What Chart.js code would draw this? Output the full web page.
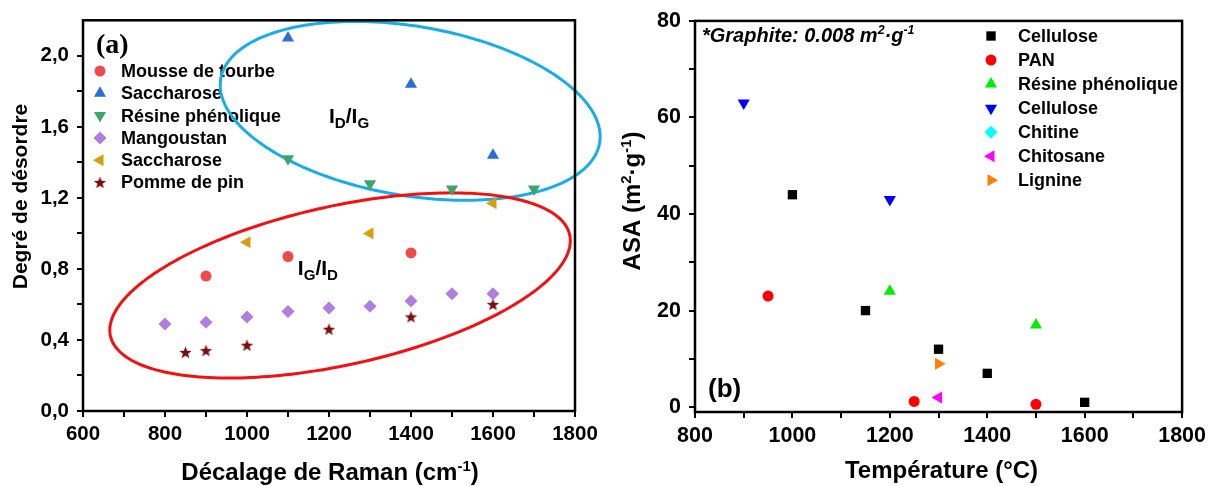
<!DOCTYPE html>
<html>
<head>
<meta charset="utf-8">
<script src="https://cdn.jsdelivr.net/npm/chart.js"></script>
<style>
  html, body { margin: 0; padding: 0; background: #fff; }
  #wrap { position: relative; width: 1211px; height: 486px; }
  canvas { position: absolute; top: 0; }
  #chartA { left: 0; }
  #chartB { left: 605px; }
</style>
</head>
<body>
<div id="wrap">
  <canvas id="chartA" width="605" height="486"></canvas>
  <canvas id="chartB" width="606" height="486"></canvas>
</div>
<script>
// ---- (a) Raman disorder data ----
const mousseX = [900, 1100, 1400];
const mousseY = [0.76, 0.87, 0.89];
const saccharoseBlueX = [1100, 1400, 1600];
const saccharoseBlueY = [2.10, 1.84, 1.44];
const resineAX = [1100, 1300, 1500, 1700];
const resineAY = [1.42, 1.28, 1.25, 1.25];
const mangoustanX = [800, 900, 1000, 1100, 1200, 1300, 1400, 1500, 1600];
const mangoustanY = [0.49, 0.50, 0.53, 0.56, 0.58, 0.59, 0.62, 0.66, 0.66];
const saccharoseGoldX = [1000, 1300, 1600];
const saccharoseGoldY = [0.95, 1.00, 1.17];
const pommeX = [850, 900, 1000, 1200, 1400, 1600];
const pommeY = [0.33, 0.34, 0.37, 0.46, 0.53, 0.60];

// ---- (b) ASA data ----
const celluloseX = [1000, 1150, 1300, 1400, 1600];
const celluloseY = [44, 20, 12, 7, 1];
const panX = [950, 1250, 1500];
const panY = [23, 1.2, 0.6];
const resineBX = [1200, 1500];
const resineBY = [24, 17];
const cellulose2X = [900, 1200];
const cellulose2Y = [63, 43];
const chitineX = [];
const chitineY = [];
const chitosaneX = [1300];
const chitosaneY = [2];
const lignineX = [1300];
const lignineY = [9];

// ---- tick labels ----
const ramanTicks = [600, 800, 1000, 1200, 1400, 1600, 1800];
const disorderTicks = [0, 0.4, 0.8, 1.2, 1.6, 2.0];
const tempTicks = [800, 1000, 1200, 1400, 1600, 1800];
const asaTicks = [0, 20, 40, 60, 80];

// ellipses around the ID/IG and IG/ID groups (data units: centre + two half-axis vectors)
const ellipseIDIG = { cx: 1398, cy: 1.69, ux: 462, uy: -0.181, vx: -34.9, vy: -0.470, color: '#18ace8' };
const ellipseIGID = { cx: 1227, cy: 0.707, ux: 560, uy: 0.285, vx: 42.1, vy: -0.4365, color: '#f41010' };

const FAMILY = "'Liberation Sans', Arial, sans-serif";

function pts(xs, ys) {
  return xs.map((x, i) => ({ x: x, y: ys[i] }));
}

function withMinor(majors) {
  const out = [];
  majors.forEach((v, i) => {
    out.push(v);
    if (i < majors.length - 1) out.push((v + majors[i + 1]) / 2);
  });
  return out;
}

function starImage(color, r) {
  const c = document.createElement('canvas');
  const s = Math.ceil(r * 2 + 2);
  c.width = s;
  c.height = s;
  const g = c.getContext('2d');
  g.fillStyle = color;
  g.beginPath();
  for (let i = 0; i < 10; i++) {
    const rad = i % 2 === 0 ? r : r * 0.42;
    const a = -Math.PI / 2 + i * Math.PI / 5;
    g.lineTo(s / 2 + rad * Math.cos(a), s / 2 + 0.5 + rad * Math.sin(a));
  }
  g.closePath();
  g.fill();
  return c;
}

// text with sub/superscripts: parts = [[text, 'sup'|'sub'|undefined], ...]
function drawRich(ctx, parts, x, y, size, align, style, small) {
  const k = small || 0.62;
  const fontFor = (p) => `${style || ''} bold ${p[1] ? size * k : size}px ${FAMILY}`;
  let w = 0;
  parts.forEach((p) => {
    ctx.font = fontFor(p);
    w += ctx.measureText(p[0]).width;
  });
  let cx = align === 'center' ? x - w / 2 : x;
  ctx.textAlign = 'left';
  ctx.textBaseline = 'alphabetic';
  parts.forEach((p) => {
    ctx.font = fontFor(p);
    const dy = p[1] === 'sup' ? -size * 0.38 : p[1] === 'sub' ? size * 0.24 : 0;
    ctx.fillText(p[0], cx, y + dy);
    cx += ctx.measureText(p[0]).width;
  });
}

// legend drawn inside the plot, before the ellipses so they pass over it
const insetLegend = {
  id: 'insetLegend',
  beforeDatasetsDraw(chart, args, opts) {
    const ctx = chart.ctx;
    ctx.save();
    chart.data.datasets.forEach((ds, i) => {
      const y = opts.top + i * opts.step;
      ctx.fillStyle = ds.backgroundColor;
      ctx.strokeStyle = ds.backgroundColor;
      Chart.helpers.drawPoint(ctx, {
        pointStyle: ds.pointStyle,
        rotation: ds.pointRotation || 0,
        radius: ds.pointRadius,
        borderWidth: 0
      }, opts.markerX, y);
      ctx.fillStyle = '#000';
      ctx.font = `bold ${opts.size}px ${FAMILY}`;
      ctx.textAlign = 'left';
      ctx.textBaseline = 'middle';
      ctx.fillText(ds.label, opts.textX, y + 1);
    });
    ctx.restore();
  }
};

const ellipses = {
  id: 'ellipses',
  beforeDatasetsDraw(chart, args, opts) {
    if (!opts.items) return;
    const ctx = chart.ctx;
    const xs = chart.scales.x;
    const ys = chart.scales.y;
    ctx.save();
    opts.items.forEach((e) => {
      ctx.beginPath();
      for (let k = 0; k <= 240; k++) {
        const t = (k / 240) * Math.PI * 2;
        const vx = e.cx + e.ux * Math.cos(t) + e.vx * Math.sin(t);
        const vy = e.cy + e.uy * Math.cos(t) + e.vy * Math.sin(t);
        const px = xs.getPixelForValue(vx);
        const py = ys.getPixelForValue(vy);
        if (k === 0) ctx.moveTo(px, py); else ctx.lineTo(px, py);
      }
      ctx.closePath();
      ctx.strokeStyle = e.color;
      ctx.lineWidth = 3;
      ctx.stroke();
    });
    ctx.restore();
  }
};

// frame box, axis titles and free texts
const decor = {
  id: 'decor',
  afterDraw(chart, args, opts) {
    const ctx = chart.ctx;
    const a = chart.chartArea;
    ctx.save();
    ctx.strokeStyle = '#000';
    ctx.lineWidth = 2.5;
    ctx.strokeRect(a.left, a.top, a.right - a.left, a.bottom - a.top);
    ctx.fillStyle = '#000';

    const xt = opts.xTitle;
    drawRich(ctx, xt.parts, xt.x, xt.y, xt.size, 'center');

    const yt = opts.yTitle;
    ctx.save();
    ctx.translate(yt.x, yt.y);
    ctx.rotate(-Math.PI / 2);
    drawRich(ctx, yt.parts, 0, 0, yt.size, 'center');
    ctx.restore();

    (opts.texts || []).forEach((t) => {
      let x = t.x, y = t.y;
      if (t.data) {
        x = chart.scales.x.getPixelForValue(t.x);
        y = chart.scales.y.getPixelForValue(t.y);
      }
      if (t.font) {
        ctx.font = t.font;
        ctx.textAlign = 'left';
        ctx.textBaseline = 'alphabetic';
        ctx.fillText(t.parts[0][0], x, y);
      } else {
        drawRich(ctx, t.parts, x, y, t.size, 'left', t.style, t.small);
      }
    });
    ctx.restore();
  }
};

function axisX(min, max, majors, size, height) {
  return {
    type: 'linear',
    min: min,
    max: max,
    afterBuildTicks: (s) => { s.ticks = withMinor(majors).map((v) => ({ value: v })); },
    afterFit: (s) => { s.height = height; },
    ticks: {
      callback: (v) => (majors.includes(v) ? String(v) : ''),
      font: { family: FAMILY, size: size, weight: 'bold' },
      color: '#000',
      padding: 5,
      autoSkip: false,
      maxRotation: 0
    },
    grid: { display: true, drawOnChartArea: false, drawTicks: true, tickLength: 6, color: '#000', lineWidth: 2 },
    border: { display: false }
  };
}

function axisY(min, max, majors, size, width, fmt) {
  return {
    type: 'linear',
    min: min,
    max: max,
    afterBuildTicks: (s) => { s.ticks = withMinor(majors).map((v) => ({ value: v })); },
    afterFit: (s) => { s.width = width; },
    ticks: {
      callback: (v) => (majors.includes(v) ? fmt(v) : ''),
      font: { family: FAMILY, size: size, weight: 'bold' },
      color: '#000',
      padding: 8,
      autoSkip: false
    },
    grid: { display: true, drawOnChartArea: false, drawTicks: true, tickLength: 6, color: '#000', lineWidth: 2 },
    border: { display: false }
  };
}

function series(label, xs, ys, color, style, radius, rotation) {
  return {
    label: label,
    data: pts(xs, ys),
    backgroundColor: color,
    borderColor: color,
    borderWidth: 0,
    pointStyle: style,
    pointRadius: radius,
    pointHoverRadius: radius,
    pointRotation: rotation || 0
  };
}

// ---------------- (a) ----------------
new Chart(document.getElementById('chartA'), {
  type: 'scatter',
  data: {
    datasets: [
      series('Mousse de tourbe', mousseX, mousseY, '#f04a4a', 'circle', 5.5),
      series('Saccharose', saccharoseBlueX, saccharoseBlueY, '#2a6ed6', 'triangle', 7),
      series('Résine phénolique', resineAX, resineAY, '#3aa66a', 'triangle', 7, 180),
      series('Mangoustan', mangoustanX, mangoustanY, '#b07de0', 'rectRot', 6.5),
      series('Saccharose', saccharoseGoldX, saccharoseGoldY, '#d4a012', 'triangle', 7, -90),
      series('Pomme de pin', pommeX, pommeY, '#7d0c0c', starImage('#7d0c0c', 6.5), 6.5)
    ]
  },
  options: {
    responsive: false,
    animation: false,
    layout: { padding: { left: 0, top: 20, right: 30, bottom: 0 } },
    scales: {
      x: axisX(600, 1800, ramanTicks, 20.5, 75),
      y: axisY(0, 2.2, disorderTicks, 20.5, 83, (v) => v.toFixed(1).replace('.', ','))
    },
    plugins: {
      legend: { display: false },
      tooltip: { enabled: false },
      insetLegend: { markerX: 100, textX: 121, top: 71, step: 22.3, size: 18 },
      ellipses: { items: [ellipseIDIG, ellipseIGID] },
      decor: {
        xTitle: { parts: [['Décalage de Raman (cm'], ['-1', 'sup'], [')']], x: 330, y: 480, size: 24 },
        yTitle: { parts: [['Degré de désordre']], x: 27, y: 196.5, size: 21 },
        texts: [
          { parts: [['(a)']], x: 96, y: 53, font: "bold 28px 'Liberation Serif', 'Times New Roman', serif" },
          { parts: [['I'], ['D', 'sub'], ['/I'], ['G', 'sub']], x: 1200, y: 1.62, data: true, size: 21, small: 0.72 },
          { parts: [['I'], ['G', 'sub'], ['/I'], ['D', 'sub']], x: 1124, y: 0.765, data: true, size: 21, small: 0.72 }
        ]
      }
    }
  },
  plugins: [insetLegend, ellipses, decor]
});

// ---------------- (b) ----------------
new Chart(document.getElementById('chartB'), {
  type: 'scatter',
  data: {
    datasets: [
      series('Cellulose', celluloseX, celluloseY, '#000000', 'rect', 6.6),
      series('PAN', panX, panY, '#ff0000', 'circle', 5.5),
      series('Résine phénolique', resineBX, resineBY, '#00ee00', 'triangle', 7),
      series('Cellulose', cellulose2X, cellulose2Y, '#0000ff', 'triangle', 7, 180),
      series('Chitine', chitineX, chitineY, '#00ffff', 'rectRot', 6.5),
      series('Chitosane', chitosaneX, chitosaneY, '#ff00ff', 'triangle', 7, -90),
      series('Lignine', lignineX, lignineY, '#ff8000', 'triangle', 7, 90)
    ]
  },
  options: {
    responsive: false,
    animation: false,
    layout: { padding: { left: 0, top: 19, right: 24, bottom: 0 } },
    scales: {
      x: axisX(800, 1800, tempTicks, 21.5, 74),
      y: axisY(-1, 80, asaTicks, 21.5, 90, (v) => String(v))
    },
    plugins: {
      legend: { display: false },
      tooltip: { enabled: false },
      insetLegend: { markerX: 386, textX: 413, top: 36, step: 24.05, size: 18 },
      decor: {
        xTitle: { parts: [['Température (°C)']], x: 336.5, y: 477.7, size: 24 },
        yTitle: { parts: [['ASA (m'], ['2', 'sup'], ['·g'], ['-1', 'sup'], [')']], x: 35, y: 201, size: 24 },
        texts: [
          { parts: [['*Graphite: 0.008 m'], ['2', 'sup'], ['·g'], ['-1', 'sup']], x: 97, y: 41.7, size: 20, style: 'italic' },
          { parts: [['(b)']], x: 103, y: 396.7, font: `bold 26px ${FAMILY}` }
        ]
      }
    }
  },
  plugins: [insetLegend, decor]
});
</script>
</body>
</html>
